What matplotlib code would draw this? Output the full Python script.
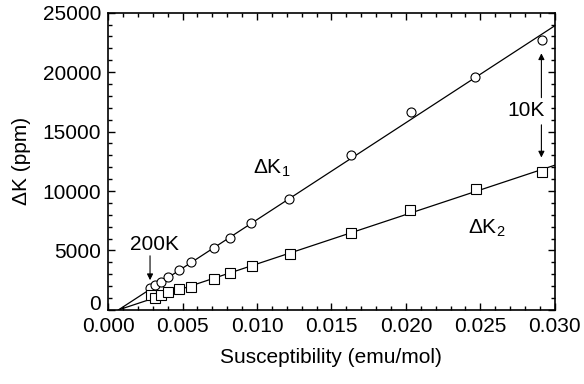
import numpy as np
import matplotlib.pyplot as plt
from matplotlib.ticker import MultipleLocator

plt.rcParams['font.family'] = ['Liberation Sans', 'DejaVu Sans']
plt.rcParams['mathtext.default'] = 'regular'

# Knight shift components vs. susceptibility (temperature is implicit)
chi_k1 = [0.00285, 0.00312, 0.00354, 0.00405, 0.00476, 0.00557, 0.00711,
          0.00819, 0.00963, 0.01217, 0.01629, 0.02034, 0.02465, 0.02917]
dk1 = [1846, 2056, 2307, 2794, 3356, 4027, 5177,
       6083, 7299, 9313, 13063, 16637, 19607, 22711]

chi_k2 = [0.00287, 0.00315, 0.00356, 0.00405, 0.00476, 0.00560, 0.00711,
          0.00819, 0.00966, 0.01221, 0.01631, 0.02031, 0.02468, 0.02917]
dk2 = [1259, 1007, 1217, 1510, 1737, 1955, 2576,
       3104, 3708, 4698, 6485, 8390, 10177, 11578]

# linear fits
fit_x = [0.0007, 0.030]
fit_k1 = [0, 23900]
fit_k2 = [0, 12170]

y_ticks = [0, 5000, 10000, 15000, 20000, 25000]

fs = 15
fig = plt.figure(figsize=(5.84, 3.84), dpi=100)
ax = fig.add_axes([0.185, 0.193, 0.765, 0.774])

ax.plot(fit_x, fit_k1, color='black', lw=0.9)
ax.plot(fit_x, fit_k2, color='black', lw=0.9)
ax.plot(chi_k1, dk1, 'o', ms=6.5, mfc='white', mec='black', mew=0.8)
ax.plot(chi_k2, dk2, 's', ms=6.5, mfc='white', mec='black', mew=0.8)

ax.set_xlim(0, 0.030)
ax.set_ylim(0, 25000)
ax.xaxis.set_major_locator(MultipleLocator(0.005))
ax.xaxis.set_minor_locator(MultipleLocator(0.001))
ax.set_yticks(y_ticks)
ax.yaxis.set_minor_locator(MultipleLocator(1000))
ax.xaxis.set_major_formatter(plt.FormatStrFormatter('%.3f'))
ax.tick_params(which='both', direction='in', top=True, right=True,
               labelsize=fs, width=1.0)
ax.tick_params(which='major', length=5)
ax.tick_params(which='minor', length=3)
ax.tick_params(axis='x', pad=5)
ax.tick_params(axis='y', pad=5)
for s in ax.spines.values():
    s.set_linewidth(1.2)

# lift the "0" on the y axis so it clears "0.000" below it
ax.yaxis.get_major_ticks()[0].label1.set_va('baseline')

ax.set_xlabel('Susceptibility (emu/mol)', fontsize=fs, labelpad=9)
ax.set_ylabel('ΔK (ppm)', fontsize=fs, labelpad=8)

ax.text(0.0110, 11900, 'ΔK$_1$', fontsize=fs, ha='center', va='center')
ax.text(0.0254, 6880, 'ΔK$_2$', fontsize=fs, ha='center', va='center')

arrow = dict(arrowstyle='-|>', color='black', lw=0.8, mutation_scale=9)
ax.text(0.00309, 5537, '200K', fontsize=fs, ha='center', va='center')
ax.annotate('', xy=(0.00282, 2265), xytext=(0.00282, 4782), arrowprops=arrow)

ax.text(0.0281, 16780, '10K', fontsize=fs, ha='center', va='center')
ax.annotate('', xy=(0.0291, 21814), xytext=(0.0291, 17619), arrowprops=arrow)
ax.annotate('', xy=(0.0291, 12585), xytext=(0.0291, 15800), arrowprops=arrow)

fig.savefig('out.png', dpi=100)
